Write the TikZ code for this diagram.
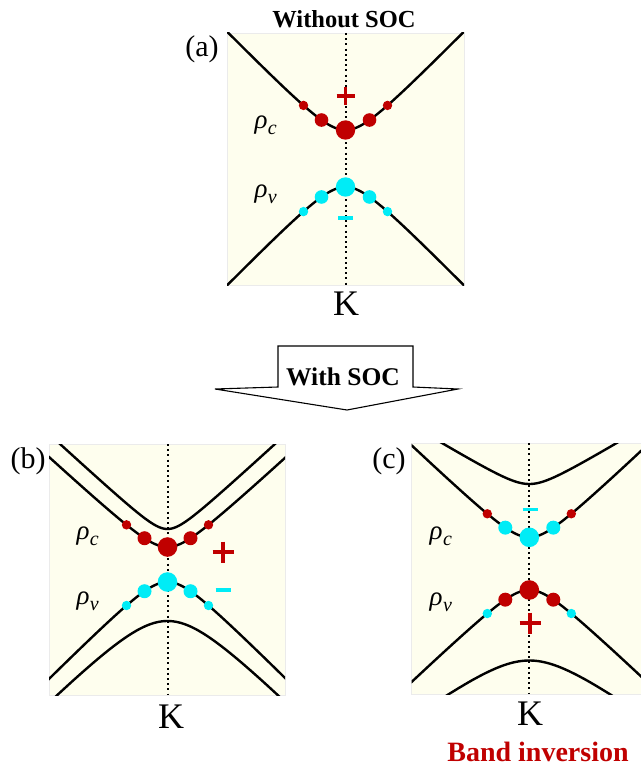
\documentclass[tikz,border=0pt]{standalone}
\usepackage{fontspec}
\setmainfont{Liberation Serif}
\usepackage{tikz}
\usetikzlibrary{positioning,calc}
\definecolor{redband}{RGB}{192,0,0}
\definecolor{cyanband}{RGB}{0,236,246}
\definecolor{panelbg}{RGB}{254,254,238}

% band: centre x, vertex y, direction, curvature, slope
\newcommand{\bandline}[5]{%
  \draw[band] plot[domain=-125:125, samples=126]
    ({#1+\x},{#2+(#3)*(veclen((#4),(#5)*\x)-(#4))});}
\newcommand{\banddots}[6]{%
  \foreach \dx/\r/\col in {#6}
    \fill[\col] ({#1+(\dx)},{#2+(#3)*(veclen((#4),(#5)*(\dx))-(#4))}) circle (\r);}
\newcommand{\plusat}[3]{%
  \draw[sign,#3] ($(#1)+(-#2/2,0)$) -- ($(#1)+(#2/2,0)$)
                 ($(#1)+(0,-#2/2)$) -- ($(#1)+(0,#2/2)$);}
\newcommand{\rhosub}[1]{ρ\kern0.5pt\raisebox{-6pt}{\fontsize{20}{22}\selectfont #1}}

\begin{document}
\begin{tikzpicture}[x=1pt, y=-1pt,
    panel/.style={fill=panelbg, draw=black!8, line width=0.6pt},
    band/.style={line width=2.4pt, black},
    kline/.style={dash pattern=on 2pt off 3.2pt, line width=2pt, black},
    sign/.style={line width=3.8pt},
    tag/.style={font=\fontsize{30}{34}\selectfont},
    klabel/.style={anchor=base, font=\fontsize{36}{40}\selectfont},
    rho/.style={anchor=base west, font=\fontsize{27}{30}\selectfont\itshape},
    title/.style={anchor=base, font=\fontsize{24.5}{28}\selectfont\bfseries},
    socarrow/.style={draw=black, fill=white, line width=1.1pt, line join=miter}
]
    \useasboundingbox (0,0) rectangle (640,767);

    % (a) without SOC
    \node[title] (woSOC) at (344,28) {Without SOC};
    \filldraw[panel] (227,33) rectangle (464,285);
    \begin{scope}
        \clip (227,33) rectangle (464,285);
        \bandline{345.5}{130}{-1}{25}{1.02}
        \bandline{345.5}{187}{1}{25}{1.02}
    \end{scope}
    \coordinate (atop) at (345.5,33);
    \coordinate (abot) at (345.5,285);
    \draw[kline] (atop) -- (abot);
    \banddots{345.5}{130}{-1}{25}{1.02}{0/9.7/redband, -24/6.8/redband, 24/6.8/redband, -42/4.7/redband, 42/4.7/redband}
    \banddots{345.5}{187}{1}{25}{1.02}{0/9.7/cyanband, -24/6.8/cyanband, 24/6.8/cyanband, -42/4.7/cyanband, 42/4.7/cyanband}
    \plusat{345.5,96}{18}{redband}
    \draw[sign, cyanband] (338,218) -- (353,218);
    \node[tag] (taga) at (202,49) {(a)};
    \node[rho] (rhoca) at (251,129) {\rhosub{c}};
    \node[rho] (rhova) at (251,197) {\rhosub{v}};
    \node[klabel] (Ka) at (346,315) {K};

    % arrow
    \draw[socarrow] (278,346) -- (413,346) -- (413,387) -- (458,389) -- (347,410)
        -- (215,389) -- (278,387) -- cycle;
    \node[title, font=\fontsize{25.5}{28}\selectfont\bfseries] (wSOC) at (343,385) {With SOC};

    % (b) with SOC
    \filldraw[panel] (49,444) rectangle (285,695);
    \begin{scope}
        \clip (49,444) rectangle (285,695);
        \bandline{167.5}{529}{-1}{15}{0.92}
        \bandline{167.5}{547}{-1}{21}{0.92}
        \bandline{167.5}{582}{1}{24}{1.0}
        \bandline{167.5}{621}{1}{45}{1.0}
    \end{scope}
    \coordinate (btop) at (167.5,444);
    \coordinate (bbot) at (167.5,695);
    \draw[kline] (btop) -- (bbot);
    \banddots{167.5}{547}{-1}{21}{0.92}{0/9.8/redband, -23/7/redband, 23/7/redband, -41/4.7/redband, 41/4.7/redband}
    \banddots{167.5}{582}{1}{24}{1.0}{0/9.8/cyanband, -23/7/cyanband, 23/7/cyanband, -41/4.7/cyanband, 41/4.7/cyanband}
    \plusat{223,552}{21}{redband}
    \draw[sign, cyanband] (215.5,590) -- (231,590);
    \node[tag] (tagb) at (28,461) {(b)};
    \node[rho] (rhocb) at (73,539) {\rhosub{c}};
    \node[rho] (rhovb) at (73,604) {\rhosub{v}};
    \node[klabel] (Kb) at (171,728) {K};

    % (c) with SOC, inverted
    \filldraw[panel] (411.5,443) rectangle (641,694);
    \begin{scope}
        \clip (411.5,443) rectangle (641,694);
        \bandline{529.3}{484}{-1}{13}{0.6}
        \bandline{529.3}{537.3}{-1}{22}{0.95}
        \bandline{529.3}{590}{1}{22}{0.95}
        \bandline{529.3}{660.5}{1}{33}{0.72}
    \end{scope}
    \coordinate (ctop) at (529.3,443);
    \coordinate (cbot) at (529.3,694);
    \draw[kline] (ctop) -- (cbot);
    \banddots{529.3}{537.3}{-1}{22}{0.95}{0/9.8/cyanband, -24/7/cyanband, 24/7/cyanband, -42/4.7/redband, 42/4.7/redband}
    \banddots{529.3}{590}{1}{22}{0.95}{0/9.8/redband, -24/7/redband, 24/7/redband, -42/4.7/cyanband, 42/4.7/cyanband}
    \draw[sign, cyanband] (522.5,509.5) -- (537.5,509.5);
    \plusat{530,623}{21}{redband}
    \node[tag] (tagc) at (389,461) {(c)};
    \node[rho] (rhocc) at (426,539) {\rhosub{c}};
    \node[rho] (rhovc) at (426,605) {\rhosub{v}};
    \node[klabel] (Kc) at (530,725) {K};
    \node[title, inner sep=0pt, font=\fontsize{28}{30}\selectfont\bfseries, text=redband] (inv) at (538,761) {Band inversion};
\end{tikzpicture}
\end{document}
